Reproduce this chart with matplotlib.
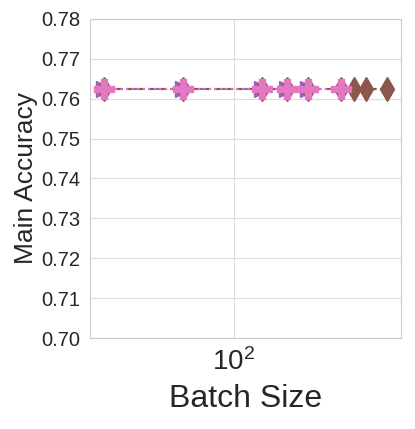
import matplotlib
matplotlib.use("Agg")
import matplotlib.pyplot as plt
import seaborn as sns

sns.set_style("whitegrid")
plt.rcParams['font.family'] = ['Liberation Sans', 'DejaVu Sans']
plt.rcParams['mathtext.fontset'] = 'custom'
plt.rcParams['mathtext.rm'] = 'Liberation Sans'
plt.rcParams['mathtext.it'] = 'Liberation Sans'

# batch sizes per run and the (flat) main accuracy
bs_purple = [32, 64, 128, 160, 192]
acc_purple = [0.7624, 0.7624, 0.7624, 0.7624, 0.7624]
bs_brown = [32, 64, 128, 160, 192, 256, 288, 320, 384]
acc_brown = [0.7624, 0.7624, 0.7624, 0.7624, 0.7624, 0.7624, 0.7624, 0.7624, 0.7624]
bs_pink = [32, 64, 128, 160, 192, 256]
acc_pink = [0.7624, 0.7624, 0.7624, 0.7624, 0.7624, 0.7624]

yticks = [0.70, 0.71, 0.72, 0.73, 0.74, 0.75, 0.76, 0.77, 0.78]

fig = plt.figure(figsize=(4.15, 4.29), dpi=100)
ax = fig.add_axes([0.217, 0.212, 0.749, 0.744])

ax.plot(bs_purple, acc_purple, color='#9467bd', marker='>', markersize=12,
        linestyle='-.', linewidth=1.5)
ax.plot(bs_brown, acc_brown, color='#8c564b', marker='d', markersize=12.5,
        linestyle='--', linewidth=1.5)
ax.plot(bs_pink, acc_pink, color='#e377c2', marker='P', markersize=15,
        linestyle=':', linewidth=1.5)

ax.set_xscale('log')
ax.set_ylim(0.70, 0.78)
ax.set_yticks(yticks)
ax.set_yticklabels([f"{v:.2f}" for v in yticks])
ax.tick_params(axis='y', labelsize=14.5)
ax.tick_params(axis='x', which='major', labelsize=20)
ax.tick_params(axis='x', which='minor', labelbottom=False)
ax.grid(True, which='major', color='#dddddd')
ax.grid(False, which='minor')
ax.set_xlabel('Batch Size', fontsize=23, labelpad=6)
ax.set_ylabel('Main Accuracy', fontsize=19, labelpad=2)

fig.savefig('out.png', dpi=100)
